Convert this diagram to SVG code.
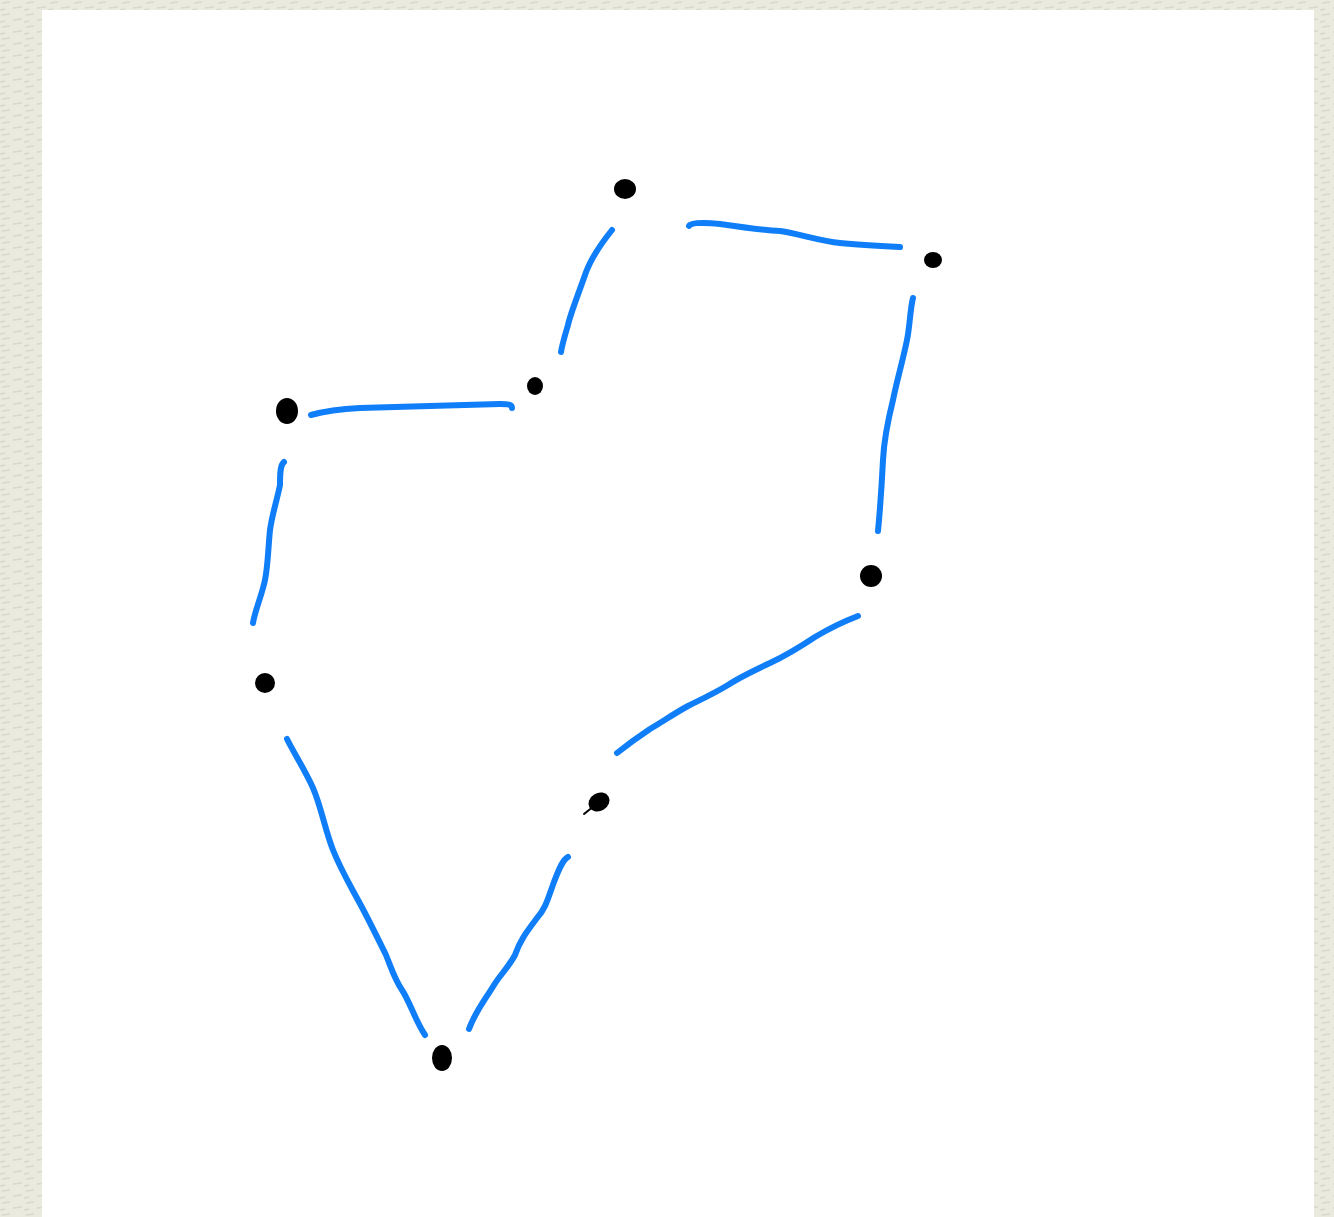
<svg xmlns="http://www.w3.org/2000/svg" width="1334" height="1217" viewBox="0 0 1334 1217">
<defs>
<style>
.edge{fill:none;stroke:#0f7ef8;stroke-width:6;stroke-linecap:round;stroke-linejoin:round}
.dot{fill:#000}
</style>
<pattern id="tex" width="24" height="12" patternUnits="userSpaceOnUse">
<rect width="24" height="12" fill="#ebeadf"/>
<path d="M2,3 L10,2 M13,8 L22,7 M0,10 L5,9" stroke="#d9d8cb" stroke-width="1.5"/>
</pattern>
</defs>
<rect width="1334" height="1217" fill="url(#tex)"/>
<rect x="42" y="10" width="1272" height="1207" fill="#ffffff"/>
<g id="connectors">
<path class="edge" d="M612,230 C600,245 590,260 585,275 C578,295 570,315 568,325 C565,335 562,345 561,352"/>
<path class="edge" d="M689,226 C690,223 700,222 720,224 C740,227 760,230 780,231 C800,234 820,241 840,243 C860,245 880,246 900,247"/>
<path class="edge" d="M311,415 C325,411 340,409 360,408 C400,407 450,405 500,404 C510,404 512,405 512,408"/>
<path class="edge" d="M913,298 C910,310 910,325 907,340 C903,360 897,380 893,400 C888,420 884,440 883,460 C882,480 880,510 878,531"/>
<path class="edge" d="M284,462 C280,465 280,475 280,485 C277,500 272,515 270,530 C268,550 268,565 265,580 C262,595 255,610 253,623"/>
<path class="edge" d="M858,616 C845,621 830,628 815,637 C800,647 785,656 770,663 C755,670 740,677 728,685 C715,693 700,700 688,706 C675,713 662,722 650,729 C638,737 627,745 617,753"/>
<path class="edge" d="M287,739 C295,755 305,770 313,788 C321,806 325,830 333,850 C341,870 350,885 358,900 C368,918 377,937 386,955 C392,970 395,980 402,990 C410,1002 415,1020 425,1035"/>
<path class="edge" d="M568,857 C562,860 558,872 554,882 C548,898 546,908 537,918 C528,930 520,940 515,955 C508,968 500,975 494,985 C485,1000 475,1012 469,1029"/>
</g>
<g id="n1"><ellipse class="dot" cx="625" cy="189" rx="11" ry="10"/></g>
<g id="n2"><ellipse class="dot" cx="933" cy="260" rx="9" ry="8"/></g>
<g id="n3"><ellipse class="dot" cx="535" cy="386" rx="8" ry="9"/></g>
<g id="n4"><ellipse class="dot" cx="287" cy="411" rx="11" ry="13"/></g>
<g id="n5"><ellipse class="dot" cx="871" cy="576" rx="11" ry="11"/></g>
<g id="n6"><ellipse class="dot" cx="265" cy="683" rx="10" ry="10"/></g>
<g id="n7"><ellipse class="dot" cx="599" cy="802" rx="11" ry="9" transform="rotate(-30 599 802)"/><path d="M584,814 L594,806" stroke="#000" stroke-width="2" stroke-linecap="round"/></g>
<g id="n8"><ellipse class="dot" cx="442" cy="1058" rx="10" ry="13"/></g>
</svg>
